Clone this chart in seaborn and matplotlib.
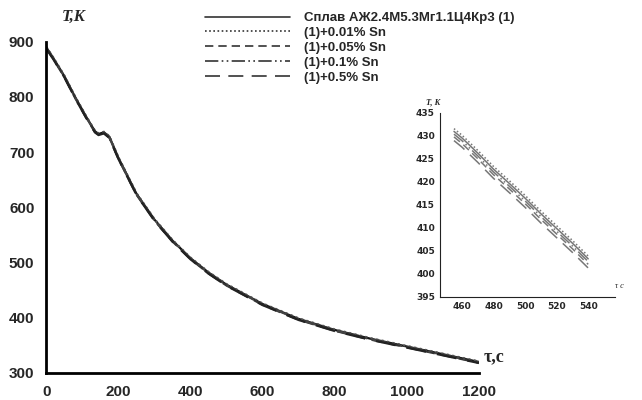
import numpy as np
import pandas as pd
import seaborn as sns
import matplotlib.pyplot as plt

# main cooling curve (time, s / temperature, K)
t_main = [0, 20, 50, 80, 110, 135, 145, 160, 175, 200, 250, 300, 350, 400, 450,
          500, 600, 700, 800, 900, 1000, 1100, 1200]
T_base = [890, 870, 838, 800, 765, 738, 733, 736, 728, 690, 625, 578, 540, 508, 482,
          460, 425, 398, 378, 362, 348, 334, 320]
# small shift of each alloy relative to the base one
shift_main = [0.0, 1.0, -1.5, -0.8, -2.0]

# zoomed segment
t_zoom = [455, 460, 470, 480, 490, 500, 510, 520, 530, 540]
T_zoom_base = [431.0, 429.6, 426.3, 422.8, 419.7, 416.5, 413.1, 409.9, 406.7, 403.3]
shift_zoom = [0.0, 0.6, -1.2, -0.6, -2.0]

labels = ["Сплав АЖ2.4М5.3Мг1.1Ц4Кр3 (1)", "(1)+0.01% Sn", "(1)+0.05% Sn",
          "(1)+0.1% Sn", "(1)+0.5% Sn"]
styles = ["-", (0, (1, 1.5)), (0, (5, 3)), (0, (8, 2, 1, 2, 1, 2)), (0, (9, 5))]
colors = ["#111111", "#555555", "#333333", "#444444", "#222222"]

sns.set_style("white")
plt.rcParams["font.family"] = ["Liberation Sans", "DejaVu Sans"]

fig = plt.figure(figsize=(6.42, 4.0), dpi=100)
ax = fig.add_axes([0.072, 0.0675, 0.674, 0.828])

handles = []
for i, lab in enumerate(labels):
    y = [v + shift_main[i] for v in T_base]
    sns.lineplot(x=t_main, y=y, ax=ax, color=colors[i], linestyle=styles[i],
                 linewidth=1.6, legend=False)
    handles.append(plt.Line2D([], [], color="#333333", linestyle=styles[i], linewidth=1.2))

ax.set_xlim(0, 1200)
ax.set_ylim(300, 900)
ax.set_xticks(range(0, 1201, 200))
ax.set_yticks(range(300, 901, 100))
for s in ["top", "right"]:
    ax.spines[s].set_visible(False)
for s in ["left", "bottom"]:
    ax.spines[s].set_linewidth(2)
    ax.spines[s].set_color("black")
ax.tick_params(direction="out", length=5, width=1.5, color="black", labelsize=11)
for lab in ax.get_xticklabels() + ax.get_yticklabels():
    lab.set_fontweight("bold")
ax.set_xlabel("")
ax.set_ylabel("")
ax.text(0.035, 1.075, "T,K", transform=ax.transAxes, fontsize=12, fontweight="bold",
        fontstyle="italic", family="Liberation Serif", va="center")
ax.text(1.01, 0.05, "τ,c", transform=ax.transAxes, fontsize=13, fontweight="bold",
        family="Liberation Serif", va="center")

leg = ax.legend(handles, labels, loc="upper left", bbox_to_anchor=(0.368, 1.09),
                frameon=False, handlelength=6.4, labelspacing=0.2, borderpad=0,
                borderaxespad=0, handletextpad=1.1,
                prop={"weight": "bold", "size": 9.5})

# inset
axi = fig.add_axes([0.685, 0.2575, 0.273, 0.46])
for i in range(len(labels)):
    y = [v + shift_zoom[i] for v in T_zoom_base]
    sns.lineplot(x=t_zoom, y=y, ax=axi, color="#777777", linestyle=styles[i],
                 linewidth=1.1, legend=False)
axi.set_xlim(446, 557)
axi.set_ylim(395, 435)
axi.set_xticks(range(460, 541, 20))
axi.set_yticks(range(395, 436, 5))
for s in ["top", "right"]:
    axi.spines[s].set_visible(False)
for s in ["left", "bottom"]:
    axi.spines[s].set_linewidth(0.8)
    axi.spines[s].set_color("#222222")
axi.tick_params(direction="out", length=2, width=0.6, labelsize=6.5, pad=1.5)
for lab in axi.get_xticklabels() + axi.get_yticklabels():
    lab.set_family("Liberation Sans Narrow")
    lab.set_fontweight("bold")
axi.set_xlabel("")
axi.set_ylabel("")
axi.patch.set_alpha(0)
axi.text(-0.08, 1.06, "T, K", transform=axi.transAxes, fontsize=6,
         fontstyle="italic", fontweight="bold", family="Liberation Serif", va="center")
axi.text(1.0, 0.06, "τ c", transform=axi.transAxes, fontsize=6,
         fontstyle="italic", family="Liberation Serif", va="center")

fig.savefig("out.png", dpi=100)
